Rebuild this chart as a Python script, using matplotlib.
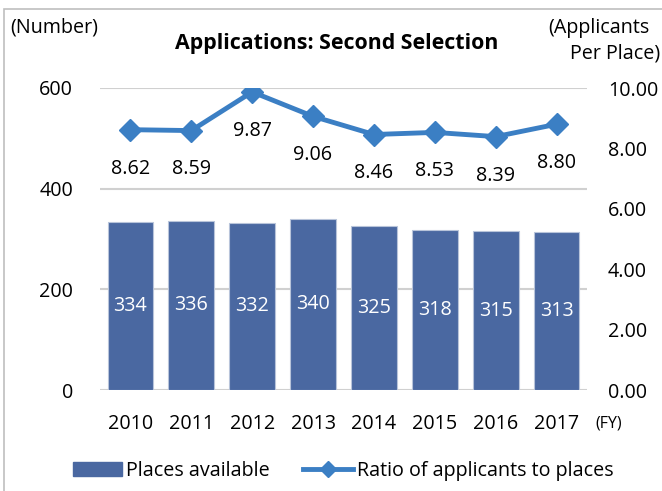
import matplotlib
matplotlib.use("Agg")
import matplotlib.pyplot as plt
from matplotlib.patches import Rectangle
from matplotlib.lines import Line2D
from matplotlib.patches import Patch

years = ["2010", "2011", "2012", "2013", "2014", "2015", "2016", "2017"]
places = [334, 336, 332, 340, 325, 318, 315, 313]
ratio = [8.62, 8.59, 9.87, 9.06, 8.46, 8.53, 8.39, 8.80]
left_ticks = [0, 200, 400, 600]
right_ticks = [0, 2, 4, 6, 8, 10]

FONT = "Open Sans"
plt.rcParams['font.family'] = [FONT, 'DejaVu Sans']

bar_color = "#4A68A1"
line_color = "#3B7FC4"
grid_color = "#D0D0D0"
fs = 14.2

W, H = 662, 491
fig = plt.figure(figsize=(W/100, H/100), dpi=100)
ax = fig.add_axes([100/W, 1-390/H, (587-100)/W, (390-88)/H])
ax2 = ax.twinx()

x = list(range(len(years)))
ax.bar(x, places, width=0.75, color=bar_color, edgecolor="#B8C4DA", linewidth=0.8, zorder=2)
for xi, v in zip(x, places):
    ax.text(xi, v/2, str(v), ha="center", va="center", color="white", fontsize=fs, zorder=3)

ax.set_ylim(0, 600)
ax.set_xlim(-0.5, len(years)-0.5)
ax.set_yticks(left_ticks)
ax.set_yticklabels([str(t) for t in left_ticks], fontsize=fs)
ax.set_xticks(x)
ax.set_xticklabels(years, fontsize=fs)
ax.tick_params(axis="x", length=0, pad=17)
ax.tick_params(axis="y", length=0, pad=19.5)
ax.grid(axis="y", color=grid_color, linewidth=1.5, zorder=0)
ax.set_axisbelow(True)
for s in ax.spines.values():
    s.set_visible(False)

ax2.plot(x, ratio, color=line_color, linewidth=3.5, marker="D", markersize=11, zorder=4)
for xi, v in zip(x, ratio):
    ax2.annotate(f"{v:.2f}", (xi, v), xytext=(0, -28), textcoords="offset points",
                 ha="center", va="center", fontsize=fs, color="black")
ax2.set_ylim(0, 10)
ax2.set_yticks(right_ticks)
ax2.set_yticklabels([f"{t:.2f}" for t in right_ticks], fontsize=fs)
ax2.tick_params(axis="y", length=0, pad=15)
for s in ax2.spines.values():
    s.set_visible(False)

fig.text(10/W, 1-28/H, "(Number)", ha="left", va="center", fontsize=fs)
fig.text(337/W, 1-44/H, "Applications: Second Selection", ha="center", va="center",
         fontsize=15.4, fontweight="bold")
fig.text(548/W, 1-28/H, "(Applicants", ha="left", va="center", fontsize=fs)
fig.text(660/W, 1-53/H, "Per Place)", ha="right", va="center", fontsize=fs)
fig.text(595/W, 1-424/H, "(FY)", ha="left", va="center", fontsize=11.5)

fig.patches.append(Rectangle((4/W, -0.1), 1.2, 1-9/H+0.1, transform=fig.transFigure,
                             fill=False, edgecolor="#BFBFBF", linewidth=1.2))

handles = [Patch(facecolor=bar_color, edgecolor=bar_color),
           Line2D([0], [0], color=line_color, linewidth=3.5, marker="D", markersize=8)]
fig.legend(handles, ["Places available", "Ratio of applicants to places"],
           loc="center", bbox_to_anchor=(343/W, 1-471/H), ncol=2, frameon=False,
           fontsize=fs, handlelength=2.5, handletextpad=0.2, columnspacing=1.7)

fig.savefig("out.png", dpi=100)
